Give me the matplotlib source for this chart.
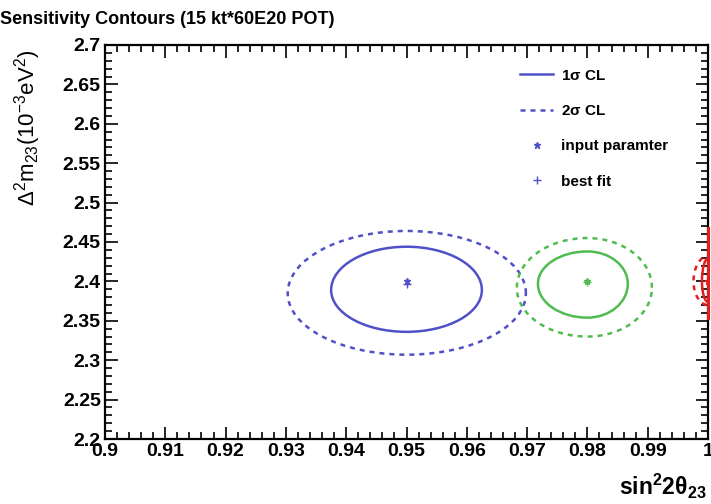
import matplotlib
matplotlib.use("Agg")
import matplotlib.pyplot as plt
from matplotlib.path import Path
from matplotlib.patches import PathPatch
from matplotlib.lines import Line2D
from matplotlib.ticker import MultipleLocator

plt.rcParams["font.family"] = ["Liberation Sans", "DejaVu Sans"]
plt.rcParams["mathtext.fontset"] = "custom"
plt.rcParams["mathtext.rm"] = "Liberation Sans"
plt.rcParams["mathtext.it"] = "Liberation Sans"
plt.rcParams["mathtext.bf"] = "Liberation Sans:bold"
plt.rcParams["mathtext.default"] = "regular"

# fitted points: true input and best fit for each sample
input_x = [0.95, 0.98, 1.00]
input_y = [2.400, 2.400, 2.400]
fit_x = [0.95, 0.98, 1.00]
fit_y = [2.397, 2.399, 2.400]
colors = ["#5050c8", "#50bb50", "#e02020"]

# contour extents: left, right, bottom, top, y at left/right extreme
one_sigma = [
    (0.9375, 0.9625, 2.336, 2.444, 2.389),
    (0.9718, 0.9867, 2.354, 2.438, 2.397),
    (0.9990, 1.0030, 2.374, 2.429, 2.400),
]
two_sigma = [
    (0.9303, 0.9698, 2.307, 2.464, 2.385),
    (0.9683, 0.9907, 2.330, 2.455, 2.392),
    (0.9976, 1.0030, 2.370, 2.432, 2.400),
]
# part of the x = 1 contour running along the physical boundary
boundary_y = [2.353, 2.468]

K = 0.5523  # bezier handle factor for quarter ellipses


def contour_patch(cx, ext, color, ls):
    left, right, bottom, top, mid = ext
    verts = [
        (right, mid),
        (right, mid + K * (top - mid)), (cx + K * (right - cx), top), (cx, top),
        (cx - K * (cx - left), top), (left, mid + K * (top - mid)), (left, mid),
        (left, mid - K * (mid - bottom)), (cx - K * (cx - left), bottom), (cx, bottom),
        (cx + K * (right - cx), bottom), (right, mid - K * (mid - bottom)), (right, mid),
    ]
    codes = [Path.MOVETO] + [Path.CURVE4] * 12
    return PathPatch(Path(verts, codes), fill=False, edgecolor=color,
                     linestyle=ls, linewidth=1.8, zorder=3)


fig = plt.figure(figsize=(7.11, 5.04), dpi=100)
ax = fig.add_axes([105 / 711, 65 / 504, 603 / 711, 394 / 504])

for cx, ext1, ext2, col in zip(input_x, one_sigma, two_sigma, colors):
    ax.add_patch(contour_patch(cx, ext1, col, "-"))
    ax.add_patch(contour_patch(cx, ext2, col, (0, (2, 2))))

ax.plot([1.0, 1.0], boundary_y, color=colors[2], lw=2.2, clip_on=False, zorder=4)

for x, y, xf, yf, col in zip(input_x, input_y, fit_x, fit_y, colors):
    ax.plot(x, y, marker="*", ms=5, color=col, ls="none", zorder=5)
    ax.plot(xf, yf, marker="+", ms=6, mew=1.0, color=col, ls="none", zorder=5)

ax.set_xlim(0.9, 1.0)
ax.set_ylim(2.2, 2.7)
ax.xaxis.set_minor_locator(MultipleLocator(0.002))
ax.yaxis.set_minor_locator(MultipleLocator(0.01))
ax.set_xticks([0.9 + 0.01 * i for i in range(11)])
ax.set_xticklabels(["0.9", "0.91", "0.92", "0.93", "0.94", "0.95", "0.96",
                    "0.97", "0.98", "0.99", "1"])
ax.set_yticks([2.2 + 0.05 * i for i in range(11)])
ax.set_yticklabels(["2.2", "2.25", "2.3", "2.35", "2.4", "2.45", "2.5",
                    "2.55", "2.6", "2.65", "2.7"])
ax.tick_params(which="both", direction="in", top=True, right=True, width=1.2)
ax.tick_params(which="major", length=9, labelsize=14, pad=3)
ax.tick_params(which="minor", length=5)
for lab in ax.get_xticklabels() + ax.get_yticklabels():
    lab.set_fontweight("bold")
for sp in ax.spines.values():
    sp.set_linewidth(1.6)

handles = [
    Line2D([], [], color=colors[0], lw=1.8),
    Line2D([], [], color=colors[0], lw=1.8, ls=(0, (2, 2))),
    Line2D([], [], color=colors[0], marker="*", ms=5, ls="none"),
    Line2D([], [], color=colors[0], marker="+", ms=6, ls="none"),
]
labels = [r"1$\sigma$ CL", r"2$\sigma$ CL", "input paramter", "best fit"]
leg = ax.legend(handles, labels, loc="upper left", bbox_to_anchor=(0.665, 0.975),
                frameon=False, prop={"weight": "bold", "size": 11},
                handlelength=2.2, handletextpad=0.5, labelspacing=1.4)

fig.text(0.0, 1 - 19 / 504, "Sensitivity Contours (15 kt*60E20 POT)",
         fontsize=13, fontweight="bold", ha="left", va="center")
fig.text(28 / 711, 1 - 50 / 504, r"$\Delta^{2}m_{23}(10^{-3}eV^{2})$",
         fontsize=16, rotation=90, ha="center", va="top")
fig.text(706 / 711, 1 - 486 / 504, r"$\mathbf{sin^{2}2\theta_{23}}$",
         fontsize=16.5, ha="right", va="center")

fig.savefig("out.png", dpi=100)
